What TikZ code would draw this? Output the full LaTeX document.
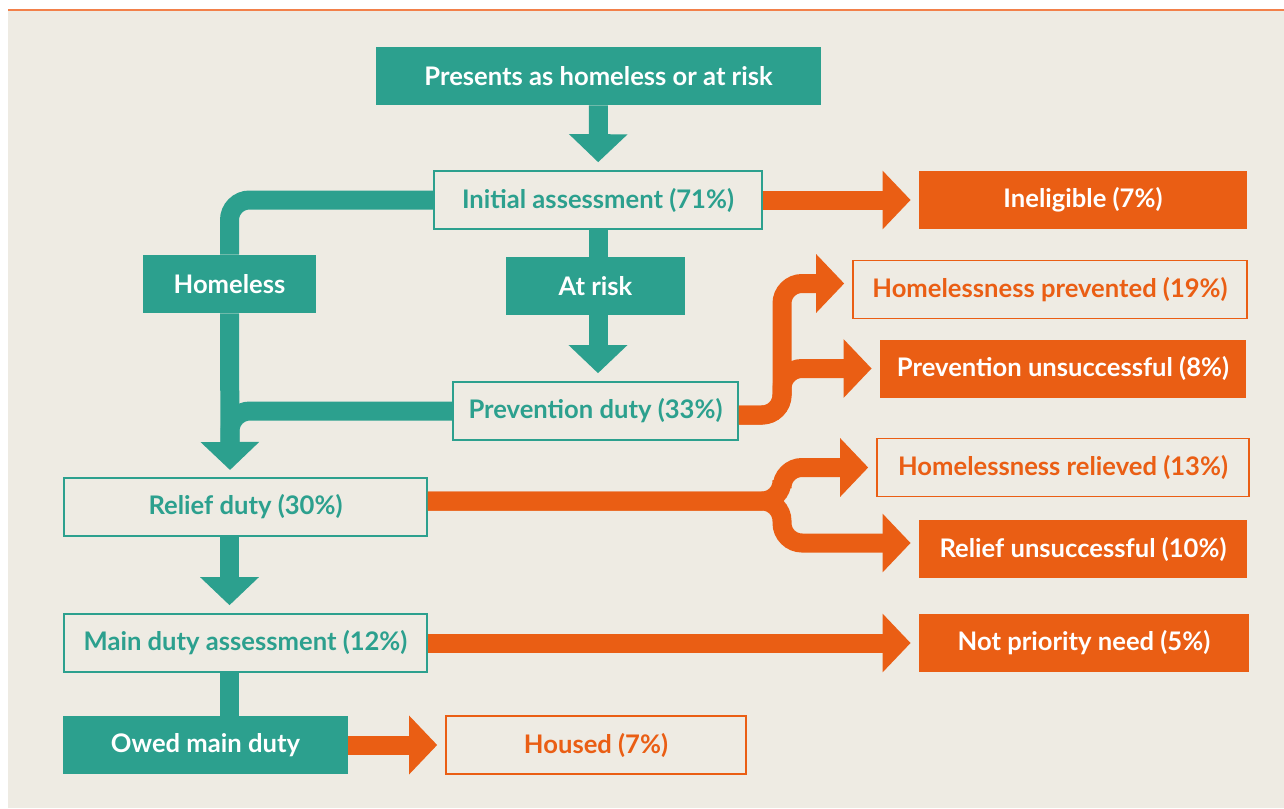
\documentclass[tikz,border=0pt]{standalone}
\usepackage{fontspec}
\setmainfont{Lato}
\usetikzlibrary{arrows.meta}
\definecolor{teal}{HTML}{2CA08E}
\definecolor{orng}{HTML}{EA5E14}
\definecolor{paper}{HTML}{EEEBE3}
\definecolor{rule}{HTML}{F2804A}

\begin{document}
\begin{tikzpicture}[x=0.5pt, y=-0.5pt,
  every node/.style={font=\fontsize{12.8}{14}\selectfont\bfseries, minimum height=29pt, inner sep=0pt},
  tealbox/.style={fill=teal, text=white},
  tealline/.style={draw=teal, line width=0.8pt, text=teal},
  orngbox/.style={fill=orng, text=white},
  orngline/.style={draw=orng, line width=0.8pt, text=orng},
  flow/.style={line width=9.5pt, -{Triangle[width=28.5pt, length=14pt]}, shorten >=4pt},
  pipe/.style={line width=9.5pt, rounded corners=10pt}]
  \useasboundingbox (0,0) rectangle (1284,808);
  \fill[paper] (8,11) rectangle (1284,808);
  \draw[rule, line width=1pt] (8,10.5) -- (1284,10.5);

  % left column
  \node[tealbox, minimum width=222.5pt] (present) at (598.5,76) {Presents as homeless or at risk};
  \node[tealline, minimum width=164pt] (init) at (598,200) {Initial assessment (71\%)};
  \node[tealbox, minimum width=86.5pt] (homeless) at (229.5,284) {Homeless};
  \node[tealbox, minimum width=89.5pt] (atrisk) at (595.5,286) {At risk};
  \node[tealline, minimum width=142.5pt] (prev) at (595.5,411) {Prevention duty (33\%)};
  \node[tealline, minimum width=181.5pt] (relief) at (245.5,507) {Relief duty (30\%)};
  \node[tealline, minimum width=181.5pt] (main) at (245.5,643) {Main duty assessment (12\%)};
  \node[tealbox, minimum width=142.5pt] (owed) at (205.5,745) {Owed main duty};

  % outcomes
  \node[orngbox, minimum width=164pt] (inel) at (1083,200) {Ineligible (7\%)};
  \node[orngline, minimum width=197pt] (prevd) at (1050,289.5) {Homelessness prevented (19\%)};
  \node[orngbox, minimum width=183pt] (prevu) at (1063,368.5) {Prevention unsuccessful (8\%)};
  \node[orngline, minimum width=186pt] (relieved) at (1063,467.5) {Homelessness relieved (13\%)};
  \node[orngbox, minimum width=164pt] (reliefu) at (1083,549) {Relief unsuccessful (10\%)};
  \node[orngbox, minimum width=165pt] (notprio) at (1084,643) {Not priority need (5\%)};
  \node[orngline, minimum width=150pt] (housed) at (596,745) {Housed (7\%)};

  \coordinate (drop) at (230,470);
  \coordinate (merge) at (230,446);
  \coordinate (pfork) at (782,0);
  \coordinate (rfork) at (782,0);

  % teal pipes
  \draw[teal, flow] (present) -- (init);
  \draw[teal, pipe] (init.south) -- (init.south |- atrisk.north);
  \draw[teal, flow] (init.south |- atrisk.south) -- (init.south |- prev.north);
  \draw[teal, pipe] (init.west) -| (homeless.north);
  \draw[teal, pipe] (prev.west) -| (merge);
  \draw[teal, flow, shorten >=0pt] (homeless.south) -- (drop);
  \draw[teal, flow] (homeless.south |- relief.south) -- (homeless.south |- main.north);
  \draw[teal, pipe] (homeless.south |- main.south) -- (homeless.south |- owed.north);

  % orange pipes
  \draw[orng, flow] (init) -- (inel);
  \draw[orng, flow, rounded corners=10pt] ([yshift=-2]prev.east) -| ([yshift=3]pfork |- prevd.west) -- ([yshift=3]prevd.west);
  \draw[orng, flow, rounded corners=10pt] ([yshift=-2]prev.east) -| (pfork |- prevu.west) -- (prevu.west);
  \draw[orng, flow, rounded corners=10pt] ([yshift=3]relief.east) -| (rfork |- relieved.west) -- (relieved.west);
  \draw[orng, flow, rounded corners=10pt] ([yshift=3]relief.east) -| ([yshift=3]rfork |- reliefu.west) -- ([yshift=3]reliefu.west);
  \draw[orng, flow] (main) -- (notprio);
  \draw[orng, flow] (owed) -- (housed);
\end{tikzpicture}
\end{document}
